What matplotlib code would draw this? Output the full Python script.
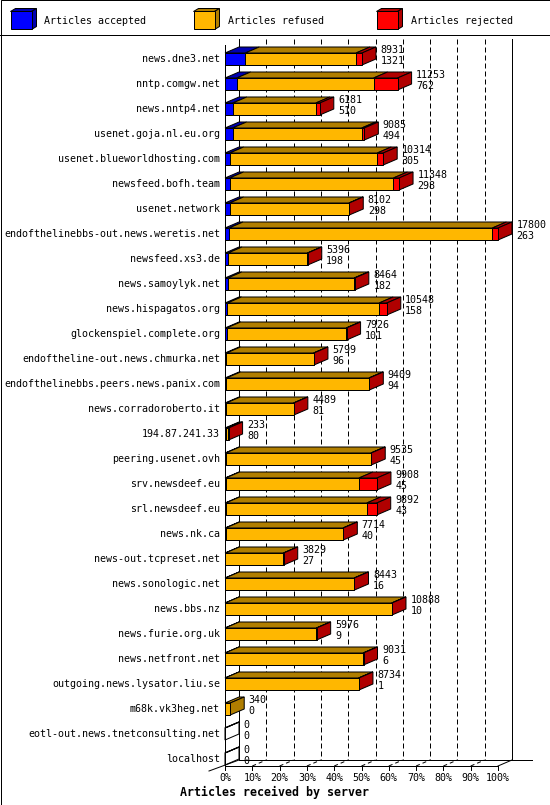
import matplotlib
matplotlib.use("Agg")
import matplotlib.pyplot as plt
from matplotlib.patches import Polygon, Rectangle

# donnees
servers = ["news.dne3.net", "nntp.comgw.net", "news.nntp4.net", "usenet.goja.nl.eu.org",
           "usenet.blueworldhosting.com", "newsfeed.bofh.team", "usenet.network",
           "endofthelinebbs-out.news.weretis.net", "newsfeed.xs3.de", "news.samoylyk.net",
           "news.hispagatos.org", "glockenspiel.complete.org", "endoftheline-out.news.chmurka.net",
           "endofthelinebbs.peers.news.panix.com", "news.corradoroberto.it", "194.87.241.33",
           "peering.usenet.ovh", "srv.newsdeef.eu", "srl.newsdeef.eu", "news.nk.ca",
           "news-out.tcpreset.net", "news.sonologic.net", "news.bbs.nz", "news.furie.org.uk",
           "news.netfront.net", "outgoing.news.lysator.liu.se", "m68k.vk3heg.net",
           "eotl-out.news.tnetconsulting.net", "localhost"]
offered = [8931, 11253, 6181, 9085, 10314, 11348, 8102, 17800, 5396, 8464, 10548, 7926, 5799,
           9409, 4489, 233, 9535, 9908, 9892, 7714, 3829, 8443, 10888, 5976, 9031, 8734, 340, 0, 0]
accepted = [1321, 762, 510, 494, 305, 298, 298, 263, 198, 182, 158, 101, 96, 94, 81, 80, 45, 45,
            43, 40, 27, 16, 10, 9, 6, 1, 0, 0, 0]
rejected = [390, 1565, 260, 175, 390, 370, 20, 370, 20, 40, 500, 30, 20, 20, 20, 15, 20, 1175,
            650, 20, 20, 20, 20, 20, 30, 20, 0, 0, 0]
refused = [o - a - r for o, a, r in zip(offered, accepted, rejected)]

series_names = ["Articles accepted", "Articles refused", "Articles rejected"]
series_colors = ["#0000ff", "#ffb700", "#ff0000"]
shade_colors = ["#0000b0", "#b07e00", "#b00000"]
pct_ticks = list(range(0, 101, 10))

# mise en page (pixels)
W, H = 550, 805
X0, PX = 225, 2.73          # pixel du 0 %, pixels par %
Y0, ROW = 59, 25            # pixel de la 1re ligne, pixels par ligne
DX, DY = 14 / PX, 6 / ROW   # profondeur 3d
HALF = 0.24
n = len(servers)
FLOOR = n - 1 + 0.28        # sol avant
TOP = -0.56                 # haut de l'axe avant
LW = 0.72
mono = "DejaVu Sans Mono"
FS = 7.2

fig = plt.figure(figsize=(W / 100, H / 100), dpi=100)
deco = fig.add_axes([0, 0, 1, 1])
deco.set_xlim(0, W)
deco.set_ylim(H, 0)
deco.axis("off")
ax = fig.add_axes([0, 0, 1, 1])
ax.set_xlim(-X0 / PX, (W - X0) / PX)
ax.set_ylim((H - Y0) / ROW, -Y0 / ROW)
ax.axis("off")

# cadre et legende
deco.add_patch(Rectangle((0.5, 0.5), W - 1, H - 1, fill=False, lw=LW, ec="black"))
deco.plot([0, W], [35.5, 35.5], color="black", lw=LW)
for k, (lx, tx) in enumerate([(10.5, 44), (193.5, 228), (376.5, 411)]):
    w, h, d, e = 21, 18, 5, 3
    y = 11.5
    deco.add_patch(Polygon([(lx, y), (lx + w, y), (lx + w + d, y - e), (lx + d, y - e)],
                           fc=shade_colors[k], ec="black", lw=LW))
    deco.add_patch(Polygon([(lx + w, y), (lx + w + d, y - e), (lx + w + d, y + h - e), (lx + w, y + h)],
                           fc=shade_colors[k], ec="black", lw=LW))
    deco.add_patch(Rectangle((lx, y), w, h, fc=series_colors[k], ec="black", lw=LW))
    deco.text(tx, 20.5, series_names[k], family=mono, size=FS, va="center", ha="left")

# axes 3d
ax.plot([0, 0], [TOP, FLOOR], color="black", lw=LW, zorder=1)
ax.plot([DX, DX], [TOP - DY, FLOOR - DY], color="black", lw=LW, zorder=1)
ax.plot([100 + DX, 100 + DX], [TOP - DY, FLOOR - DY], color="black", lw=LW, zorder=1)
ax.plot([0, 100], [FLOOR, FLOOR], color="black", lw=LW, zorder=1)
ax.plot([DX, 112.5], [FLOOR - DY, FLOOR - DY], color="black", lw=LW, zorder=1)
ax.plot([100, 100 + DX], [FLOOR, FLOOR - DY], color="black", lw=LW, zorder=1)
ax.plot([-16 / PX, DX], [FLOOR + 0.2, FLOOR - DY], color="black", lw=LW, zorder=1)
for p in pct_ticks:
    ax.plot([p, p], [FLOOR, FLOOR + 0.16], color="black", lw=LW, zorder=1)
    ax.text(p, FLOOR + 0.48, f"{p}%", family=mono, size=FS, ha="center", va="center")
    if 0 < p < 100:
        ax.plot([p + DX, p + DX], [TOP - DY, FLOOR - DY], color="black", lw=LW,
                ls=(0, (5, 3)), zorder=1)
        ax.plot([p, p + DX], [FLOOR, FLOOR - DY], color="black", lw=LW,
                ls=(0, (4, 3)), zorder=1)
ax.text((W / 2 - X0) / PX, FLOOR + 1.05, "Articles received by server", family=mono,
        weight="bold", size=8.4, ha="center", va="center")

# barres empilees en 3d
vmax = max(offered)
rows = list(range(n))
left = [0.0] * n
for k, vals in enumerate([accepted, refused, rejected]):
    widths = [v / vmax * 100 for v in vals]
    ax.barh(rows, widths, left=left, height=2 * HALF, color=series_colors[k],
            edgecolor="black", linewidth=LW, zorder=4)
    for i in rows:
        if vals[i] > 0 or offered[i] == 0:
            a, b = left[i], left[i] + widths[i]
            ax.add_patch(Polygon([(a, i - HALF), (b, i - HALF), (b + DX, i - HALF - DY),
                                  (a + DX, i - HALF - DY)], fc=shade_colors[k], ec="black",
                                 lw=LW, zorder=3))
    left = [l + w for l, w in zip(left, widths)]

for i in rows:
    end = left[i]
    last = [k for k, v in enumerate([accepted[i], refused[i], rejected[i]]) if v > 0]
    fc = shade_colors[last[-1]] if last else "none"
    ax.add_patch(Polygon([(end, i - HALF), (end + DX, i - HALF - DY), (end + DX, i + HALF - DY),
                          (end, i + HALF)], fc=fc, ec="black", lw=LW, zorder=3))
    tx = end + DX + 4.5 / PX
    ax.text(tx, i - 0.37, str(offered[i]), family=mono, size=FS, va="center", ha="left")
    ax.text(tx, i + 0.07, str(accepted[i]), family=mono, size=FS, va="center", ha="left")
    ax.text(-5 / PX, i, servers[i], family=mono, size=FS, va="center", ha="right")

fig.savefig("out.png", dpi=100, facecolor="white")
